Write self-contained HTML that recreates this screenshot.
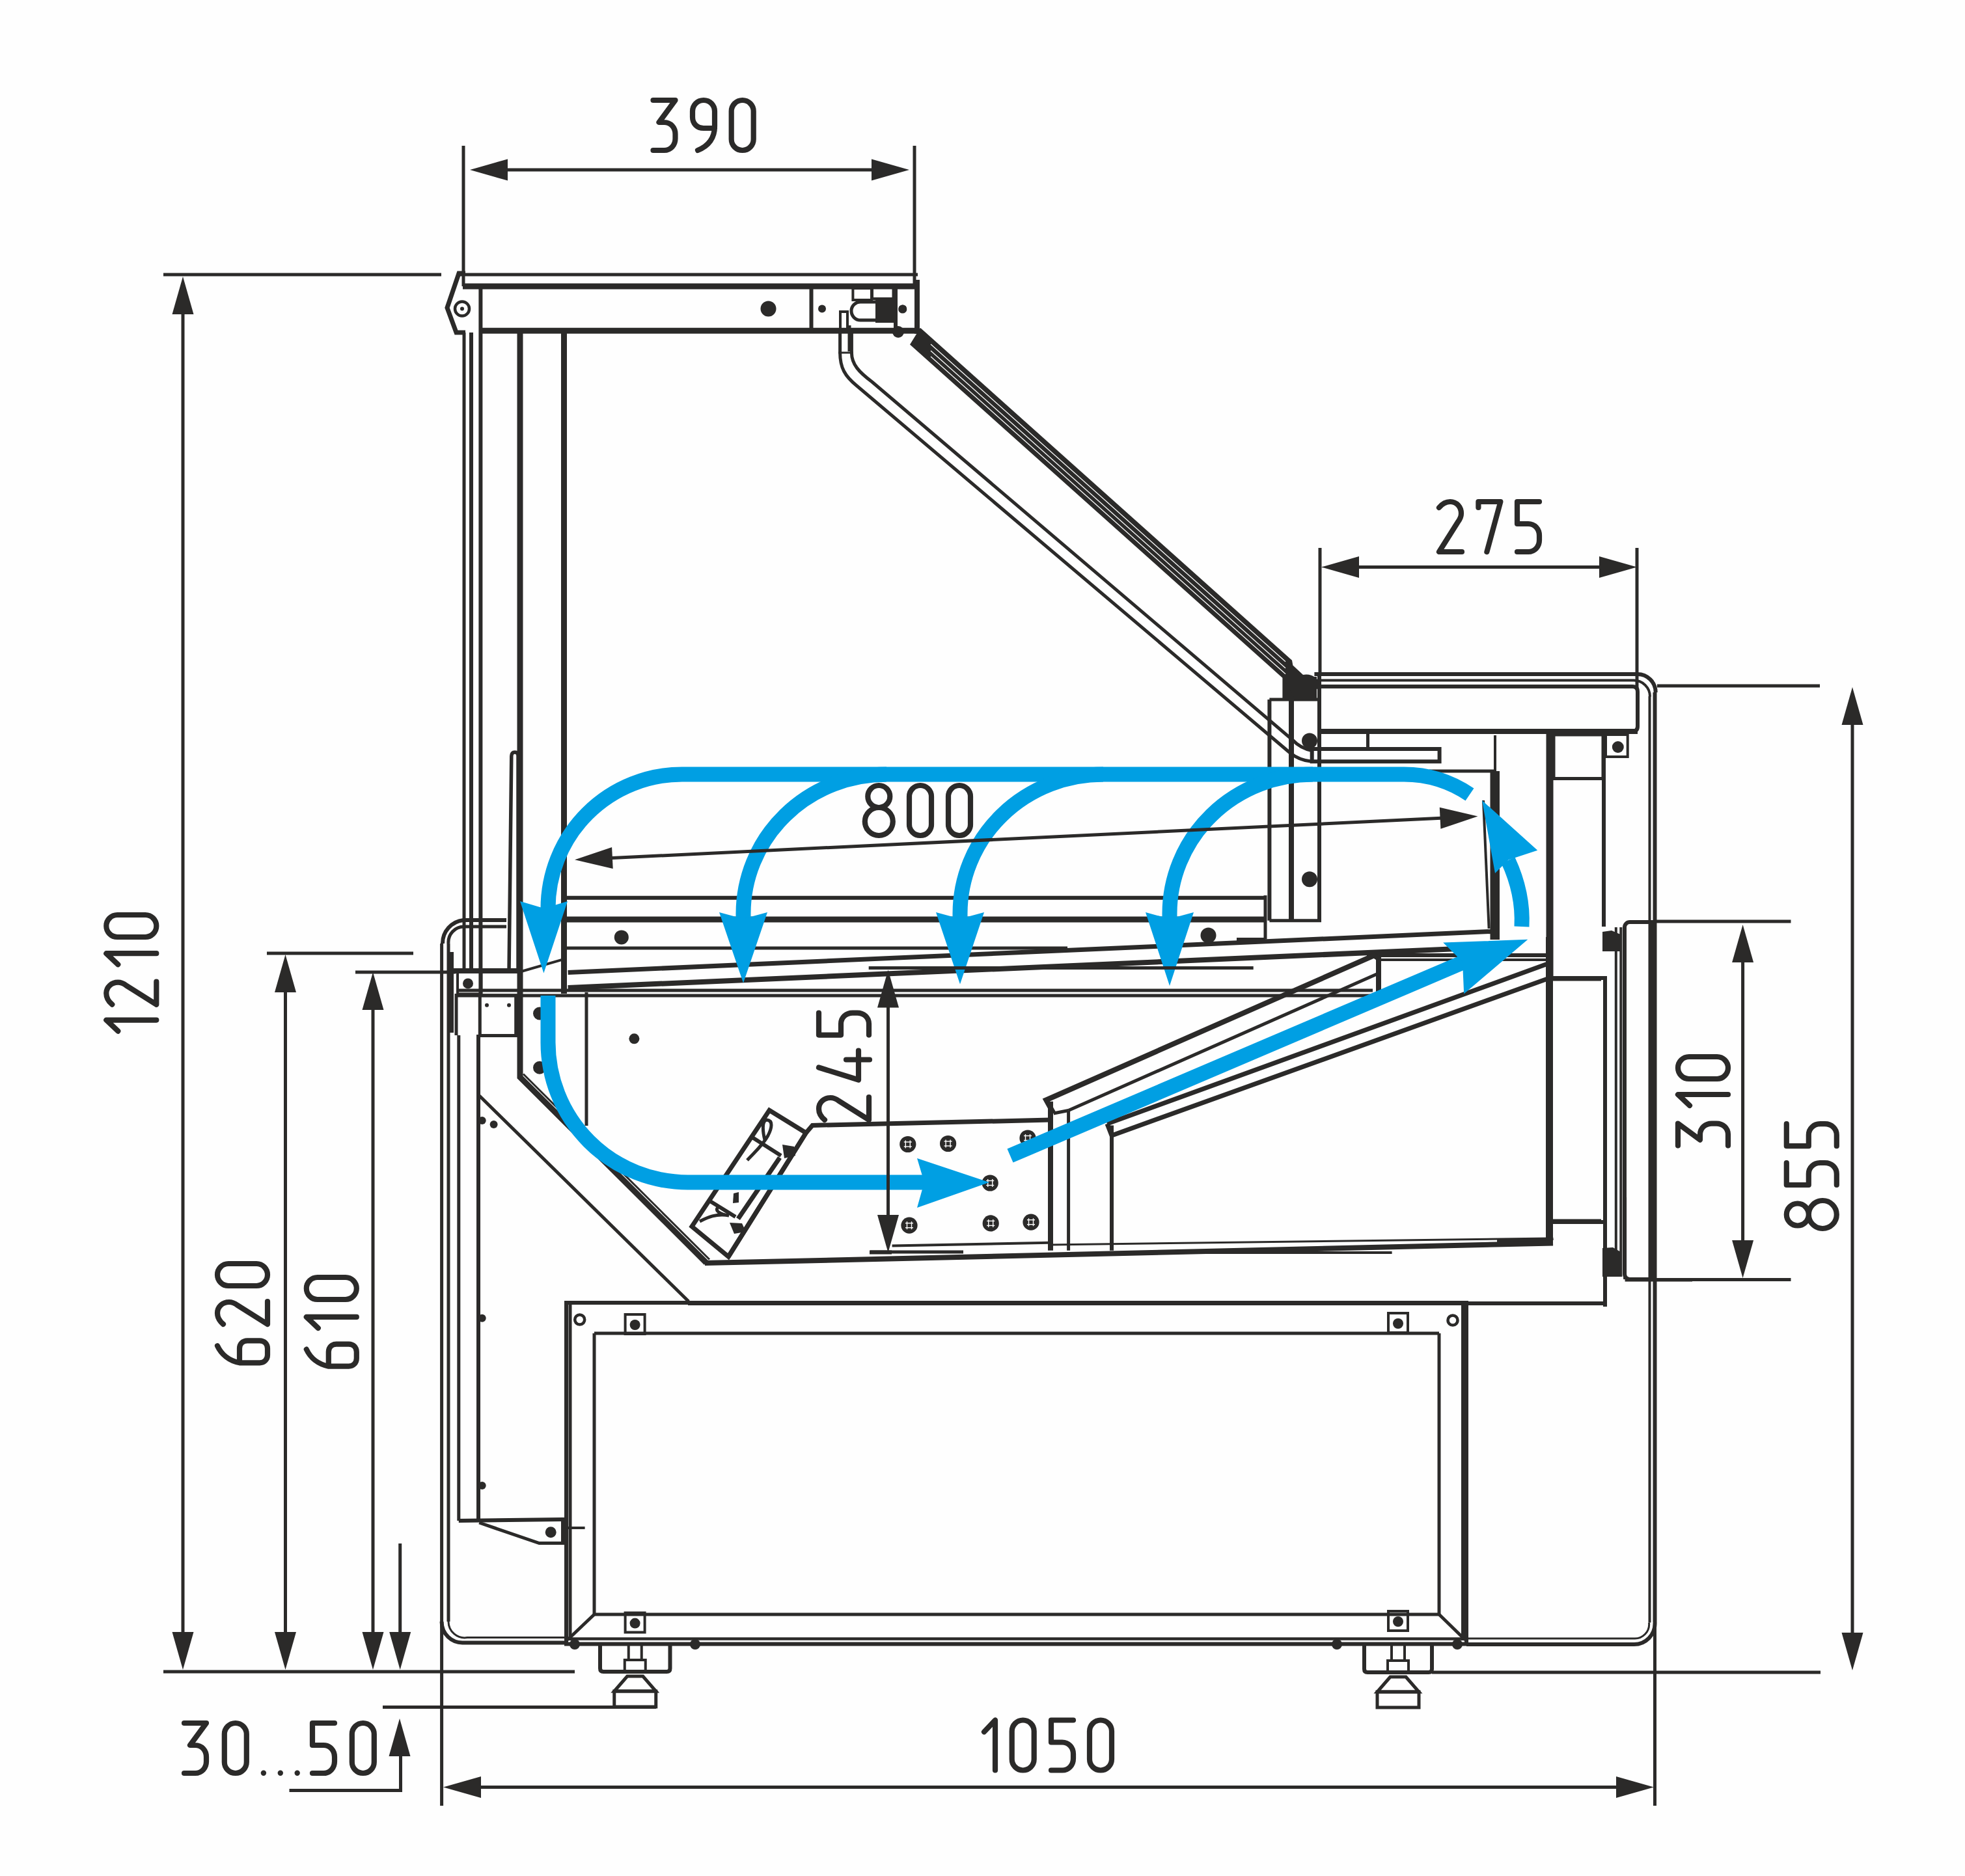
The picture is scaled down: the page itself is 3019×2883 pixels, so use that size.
<!DOCTYPE html>
<html><head><meta charset="utf-8"><style>
html,body{margin:0;padding:0;background:#fefefe;}
svg{display:block;}
</style></head><body>
<svg width="3019" height="2883" viewBox="0 0 3019 2883">
<rect width="3019" height="2883" fill="#fefefe"/>
<line x1="707" y1="422" x2="1410" y2="422" stroke="#2b2a29" stroke-width="5" stroke-linecap="butt"/>
<line x1="711" y1="440" x2="1413" y2="440" stroke="#2b2a29" stroke-width="9" stroke-linecap="butt"/>
<line x1="739.6" y1="508.3" x2="1413" y2="508.3" stroke="#2b2a29" stroke-width="9" stroke-linecap="butt"/>
<line x1="1409" y1="430" x2="1409" y2="513" stroke="#2b2a29" stroke-width="8" stroke-linecap="butt"/>
<line x1="1246.5" y1="440" x2="1246.5" y2="512" stroke="#2b2a29" stroke-width="6" stroke-linecap="butt"/>
<polyline points="715,420 705,420 687,473 701,511 715,511" fill="none" stroke="#2b2a29" stroke-width="7" stroke-linejoin="miter"/>
<circle cx="710" cy="474.5" r="11" fill="none" stroke="#2b2a29" stroke-width="4.5"/>
<circle cx="710" cy="474.5" r="3" fill="#2b2a29"/>
<circle cx="1180.5" cy="474.5" r="12" fill="#2b2a29"/>
<circle cx="1263" cy="474.5" r="6" fill="#2b2a29"/>
<circle cx="1387" cy="474.5" r="6" fill="#2b2a29"/>
<polygon points="1310.4,443 1339,443 1339,461 1310.4,461" fill="none" stroke="#2b2a29" stroke-width="4" stroke-linejoin="miter"/>
<polygon points="1340,441 1372.5,441 1372.5,459 1340,459" fill="none" stroke="#2b2a29" stroke-width="4" stroke-linejoin="miter"/>
<path d="M1322,464 H1350 V492 H1322 A14,14 0 0 1 1322,464 Z" fill="none" stroke="#2b2a29" stroke-width="5" stroke-linecap="butt" stroke-linejoin="miter"/>
<polygon points="1345.0,459.0 1374.0,459.0 1374.0,496.0 1345.0,496.0" fill="#2b2a29"/>
<line x1="1376" y1="440" x2="1376" y2="508" stroke="#2b2a29" stroke-width="6" stroke-linecap="butt"/>
<circle cx="1386.7" cy="475" r="6.6" fill="#2b2a29"/>
<path d="M1291,508 V479 H1302 V505" fill="none" stroke="#2b2a29" stroke-width="4" stroke-linecap="butt" stroke-linejoin="miter"/>
<line x1="1305" y1="500" x2="1305" y2="540" stroke="#2b2a29" stroke-width="5" stroke-linecap="butt"/>
<line x1="713" y1="511" x2="713" y2="1488" stroke="#2b2a29" stroke-width="5" stroke-linecap="butt"/>
<line x1="724" y1="511" x2="724" y2="1488" stroke="#2b2a29" stroke-width="6" stroke-linecap="butt"/>
<line x1="738.4" y1="441" x2="738.4" y2="1527" stroke="#2b2a29" stroke-width="6" stroke-linecap="butt"/>
<polyline points="799,512 799,1655.5 1085,1940.5" fill="none" stroke="#2b2a29" stroke-width="9" stroke-linejoin="miter"/>
<line x1="866.5" y1="512" x2="866.5" y2="1527" stroke="#2b2a29" stroke-width="9" stroke-linecap="butt"/>
<path d="M782,1493 L785.8,1162 Q786,1156 791,1156 Q796,1156 796,1162 L796,1493" fill="none" stroke="#2b2a29" stroke-width="5.5" stroke-linecap="butt" stroke-linejoin="miter"/>
<line x1="799" y1="1493.5" x2="865.2" y2="1474.3" stroke="#2b2a29" stroke-width="4" stroke-linecap="butt"/>
<path d="M1414,503.7 L1985,1014.8 L1986.4,1022.5 L2002,1037 A23,23 0 0 1 2024.7,1045 V1057.7 L2006.6,1074.7 H1970.4 V1041.7 L1398,529.4 Z" fill="#2b2a29" stroke="none" stroke-width="0" stroke-linecap="butt" stroke-linejoin="miter"/>
<circle cx="1380" cy="510" r="9" fill="#2b2a29"/>
<line x1="1430" y1="529.05" x2="1975" y2="1016.825" stroke="#fefefe" stroke-width="1.3" stroke-linecap="butt"/>
<line x1="1430" y1="539.05" x2="1975" y2="1026.825" stroke="#fefefe" stroke-width="1.3" stroke-linecap="butt"/>
<line x1="1430" y1="548.05" x2="1975" y2="1035.825" stroke="#fefefe" stroke-width="1.3" stroke-linecap="butt"/>
<path d="M1290.6,510 V542 C1290.6,565 1298,578 1316.5,593 L1982,1157 Q1996,1168.5 2015.7,1170.3" fill="none" stroke="#2b2a29" stroke-width="5" stroke-linecap="butt" stroke-linejoin="miter"/>
<path d="M1308.4,510 V542 C1308.4,560 1320,572 1340,587 L1985.8,1137 Q1998,1150 2015.7,1153.5" fill="none" stroke="#2b2a29" stroke-width="5" stroke-linecap="butt" stroke-linejoin="miter"/>
<line x1="1288" y1="542" x2="1311" y2="542" stroke="#2b2a29" stroke-width="3" stroke-linecap="butt"/>
<path d="M2019.4,1036 H2515.7 A28,28 0 0 1 2543.7,1064" fill="none" stroke="#2b2a29" stroke-width="6" stroke-linecap="butt" stroke-linejoin="miter"/>
<path d="M2027,1045.5 H2510 A25,25 0 0 1 2535,1070.5" fill="none" stroke="#2b2a29" stroke-width="4" stroke-linecap="butt" stroke-linejoin="miter"/>
<line x1="2027" y1="1036" x2="2027" y2="1124" stroke="#2b2a29" stroke-width="6" stroke-linecap="butt"/>
<path d="M2027,1055 H2508 Q2516,1055 2516,1063 V1116 Q2516,1124 2508,1124" fill="none" stroke="#2b2a29" stroke-width="6" stroke-linecap="butt" stroke-linejoin="miter"/>
<line x1="2027" y1="1124" x2="2516" y2="1124" stroke="#2b2a29" stroke-width="8" stroke-linecap="butt"/>
<line x1="2542.5" y1="1064" x2="2542.5" y2="2493.5" stroke="#2b2a29" stroke-width="6" stroke-linecap="butt"/>
<line x1="2534.5" y1="1070" x2="2534.5" y2="2493.5" stroke="#2b2a29" stroke-width="4" stroke-linecap="butt"/>
<polygon points="1971.0,1040.0 2023.0,1040.0 2023.0,1075.0 1990.0,1075.0" fill="#2b2a29"/>
<line x1="1950.4" y1="1075" x2="1950.4" y2="1414.7" stroke="#2b2a29" stroke-width="6" stroke-linecap="butt"/>
<line x1="1984" y1="1075" x2="1984" y2="1414.7" stroke="#2b2a29" stroke-width="8" stroke-linecap="butt"/>
<line x1="2027" y1="1124" x2="2027" y2="1414.7" stroke="#2b2a29" stroke-width="6" stroke-linecap="butt"/>
<line x1="1950.4" y1="1075" x2="2027" y2="1075" stroke="#2b2a29" stroke-width="5" stroke-linecap="butt"/>
<line x1="1950.4" y1="1414.7" x2="2030" y2="1414.7" stroke="#2b2a29" stroke-width="5" stroke-linecap="butt"/>
<circle cx="2012" cy="1138.6" r="12" fill="#2b2a29"/>
<circle cx="2012" cy="1351.3" r="12" fill="#2b2a29"/>
<polygon points="2015.7,1151 2211.6,1151 2211.6,1170.3 2015.7,1170.3" fill="none" stroke="#2b2a29" stroke-width="6" stroke-linejoin="miter"/>
<line x1="2101.5" y1="1124" x2="2101.5" y2="1151" stroke="#2b2a29" stroke-width="5" stroke-linecap="butt"/>
<line x1="2196" y1="1185" x2="2297" y2="1185" stroke="#2b2a29" stroke-width="5" stroke-linecap="butt"/>
<line x1="2297" y1="1185" x2="2297" y2="1444" stroke="#2b2a29" stroke-width="14" stroke-linecap="butt"/>
<line x1="2297" y1="1130" x2="2297" y2="1185" stroke="#2b2a29" stroke-width="4" stroke-linecap="butt"/>
<line x1="2279" y1="1230" x2="2287.6" y2="1427" stroke="#2b2a29" stroke-width="4" stroke-linecap="butt"/>
<line x1="2381" y1="1127" x2="2381" y2="1502" stroke="#2b2a29" stroke-width="11" stroke-linecap="butt"/>
<polygon points="2387,1129 2463,1129 2463,1196.4 2387,1196.4" fill="none" stroke="#2b2a29" stroke-width="5" stroke-linejoin="miter"/>
<line x1="2464" y1="1127" x2="2464" y2="1424" stroke="#2b2a29" stroke-width="6" stroke-linecap="butt"/>
<polygon points="2467,1129 2500.7,1129 2500.7,1163 2467,1163" fill="none" stroke="#2b2a29" stroke-width="4" stroke-linejoin="miter"/>
<circle cx="2485.8" cy="1148" r="9" fill="#2b2a29"/>
<line x1="2383.5" y1="1502.8" x2="2463" y2="1502.8" stroke="#2b2a29" stroke-width="5" stroke-linecap="butt"/>
<path d="M2542.5,1417 H2504 A8,8 0 0 0 2496,1425 V1958 A8,8 0 0 0 2504,1966 H2542.5" fill="none" stroke="#2b2a29" stroke-width="6" stroke-linecap="butt" stroke-linejoin="miter"/>
<line x1="2482.8" y1="1425" x2="2482.8" y2="1962" stroke="#2b2a29" stroke-width="4" stroke-linecap="butt"/>
<line x1="2490.3" y1="1425" x2="2490.3" y2="1962" stroke="#2b2a29" stroke-width="4" stroke-linecap="butt"/>
<polygon points="2462.0,1432.0 2476.0,1430.0 2492.0,1437.0 2492.0,1462.0 2462.0,1462.0" fill="#2b2a29"/>
<polygon points="2462.0,1918.0 2478.0,1917.0 2492.0,1925.0 2492.0,1962.0 2462.0,1962.0" fill="#2b2a29"/>
<line x1="2539" y1="1417" x2="2539" y2="1966" stroke="#2b2a29" stroke-width="10" stroke-linecap="butt"/>
<polygon points="2378.4,1503 2466,1503 2466,1878 2378.4,1878" fill="none" stroke="#2b2a29" stroke-width="6" stroke-linejoin="miter"/>
<line x1="2384" y1="1503" x2="2384" y2="1878" stroke="#2b2a29" stroke-width="4" stroke-linecap="butt"/>
<line x1="2466" y1="1878" x2="2466" y2="2008" stroke="#2b2a29" stroke-width="6" stroke-linecap="butt"/>
<line x1="1057" y1="2003" x2="2466" y2="2003" stroke="#2b2a29" stroke-width="6" stroke-linecap="butt"/>
<line x1="2378.4" y1="1878" x2="2384" y2="1906" stroke="#2b2a29" stroke-width="6" stroke-linecap="butt"/>
<line x1="2300" y1="1906" x2="2384" y2="1906" stroke="#2b2a29" stroke-width="6" stroke-linecap="butt"/>
<line x1="2496.6" y1="1966" x2="2496.6" y2="1840" stroke="#2b2a29" stroke-width="5" stroke-linecap="butt"/>
<line x1="2496.6" y1="1967" x2="2600" y2="1967" stroke="#2b2a29" stroke-width="5" stroke-linecap="butt"/>
<line x1="866" y1="1379.7" x2="1944" y2="1379.7" stroke="#2b2a29" stroke-width="6" stroke-linecap="butt"/>
<line x1="866" y1="1413" x2="1944" y2="1413" stroke="#2b2a29" stroke-width="9" stroke-linecap="butt"/>
<line x1="1944" y1="1376" x2="1944" y2="1443.6" stroke="#2b2a29" stroke-width="5" stroke-linecap="butt"/>
<line x1="1944" y1="1443.6" x2="1900" y2="1443.6" stroke="#2b2a29" stroke-width="5" stroke-linecap="butt"/>
<line x1="1900" y1="1379" x2="1900" y2="1443" stroke="#2b2a29" stroke-width="0" stroke-linecap="butt"/>
<line x1="866" y1="1457" x2="1640" y2="1457" stroke="#2b2a29" stroke-width="5" stroke-linecap="butt"/>
<line x1="872.6" y1="1494.5" x2="2292" y2="1431.4" stroke="#2b2a29" stroke-width="7" stroke-linecap="butt"/>
<line x1="872.6" y1="1518" x2="2240" y2="1458" stroke="#2b2a29" stroke-width="8" stroke-linecap="butt"/>
<line x1="2100" y1="1468" x2="2378" y2="1468" stroke="#2b2a29" stroke-width="6" stroke-linecap="butt"/>
<line x1="2116" y1="1475" x2="2378" y2="1475" stroke="#2b2a29" stroke-width="4" stroke-linecap="butt"/>
<line x1="703" y1="1522" x2="2109" y2="1522" stroke="#2b2a29" stroke-width="5" stroke-linecap="butt"/>
<line x1="703" y1="1530" x2="2112" y2="1530" stroke="#2b2a29" stroke-width="5" stroke-linecap="butt"/>
<line x1="901" y1="1525" x2="901" y2="1730" stroke="#2b2a29" stroke-width="5" stroke-linecap="butt"/>
<line x1="2117" y1="1470" x2="2117" y2="1529" stroke="#2b2a29" stroke-width="5" stroke-linecap="butt"/>
<circle cx="954.8" cy="1440.4" r="11" fill="#2b2a29"/>
<circle cx="974.4" cy="1596.3" r="8" fill="#2b2a29"/>
<circle cx="1856.5" cy="1437.5" r="12" fill="#2b2a29"/>
<line x1="2292" y1="1185" x2="2292" y2="1444" stroke="#2b2a29" stroke-width="5" stroke-linecap="butt"/>
<polyline points="1618.7,1711 1607.3,1690.5 2111,1468.3 2118,1473 2118,1528" fill="none" stroke="#2b2a29" stroke-width="8" stroke-linejoin="miter"/>
<line x1="1641.6" y1="1706.5" x2="2118" y2="1495.8" stroke="#2b2a29" stroke-width="5" stroke-linecap="butt"/>
<line x1="1618.7" y1="1711" x2="1641.6" y2="1706.5" stroke="#2b2a29" stroke-width="5" stroke-linecap="butt"/>
<polyline points="1701,1727 1708,1745 2381.4,1502.7" fill="none" stroke="#2b2a29" stroke-width="7" stroke-linejoin="miter"/>
<line x1="1701" y1="1727" x2="2381.4" y2="1479.8" stroke="#2b2a29" stroke-width="7" stroke-linecap="butt"/>
<line x1="2380.5" y1="1440" x2="2380.5" y2="1910.4" stroke="#2b2a29" stroke-width="11" stroke-linecap="butt"/>
<line x1="2381.4" y1="1505" x2="2460" y2="1505" stroke="#2b2a29" stroke-width="5" stroke-linecap="butt"/>
<line x1="2381.4" y1="1876" x2="2460" y2="1876" stroke="#2b2a29" stroke-width="5" stroke-linecap="butt"/>
<line x1="1614" y1="1692.8" x2="1614" y2="1921.8" stroke="#2b2a29" stroke-width="8" stroke-linecap="butt"/>
<line x1="1641.6" y1="1706.5" x2="1641.6" y2="1921.8" stroke="#2b2a29" stroke-width="5" stroke-linecap="butt"/>
<line x1="1708" y1="1729.4" x2="1708" y2="1921.8" stroke="#2b2a29" stroke-width="6" stroke-linecap="butt"/>
<line x1="1082.9" y1="1941.1" x2="2386" y2="1910.4" stroke="#2b2a29" stroke-width="8" stroke-linecap="butt"/>
<line x1="1737.8" y1="1925" x2="2138.6" y2="1925" stroke="#2b2a29" stroke-width="4" stroke-linecap="butt"/>
<line x1="1336" y1="1924.6" x2="1370" y2="1924.6" stroke="#2b2a29" stroke-width="6" stroke-linecap="butt"/>
<line x1="1370.6" y1="1914.6" x2="1612" y2="1909.7" stroke="#2b2a29" stroke-width="4" stroke-linecap="butt"/>
<line x1="1612" y1="1913" x2="2381" y2="1903" stroke="#2b2a29" stroke-width="3" stroke-linecap="butt"/>
<polyline points="1119.2,1931.2 1238.3,1741 1248.2,1729.4 1614,1721.1" fill="none" stroke="#2b2a29" stroke-width="7" stroke-linejoin="miter"/>
<circle cx="1394.8" cy="1758.5" r="12.6" fill="#2b2a29"/>
<line x1="1388.8" y1="1755.0" x2="1400.8" y2="1755.0" stroke="#fff" stroke-width="1.4" stroke-linecap="butt"/>
<line x1="1388.8" y1="1762.0" x2="1400.8" y2="1762.0" stroke="#fff" stroke-width="1.4" stroke-linecap="butt"/>
<line x1="1391.3" y1="1752.5" x2="1391.3" y2="1764.5" stroke="#fff" stroke-width="1.4" stroke-linecap="butt"/>
<line x1="1398.3" y1="1752.5" x2="1398.3" y2="1764.5" stroke="#fff" stroke-width="1.4" stroke-linecap="butt"/>
<circle cx="1456.6" cy="1757.5" r="12.6" fill="#2b2a29"/>
<line x1="1450.6" y1="1754.0" x2="1462.6" y2="1754.0" stroke="#fff" stroke-width="1.4" stroke-linecap="butt"/>
<line x1="1450.6" y1="1761.0" x2="1462.6" y2="1761.0" stroke="#fff" stroke-width="1.4" stroke-linecap="butt"/>
<line x1="1453.1" y1="1751.5" x2="1453.1" y2="1763.5" stroke="#fff" stroke-width="1.4" stroke-linecap="butt"/>
<line x1="1460.1" y1="1751.5" x2="1460.1" y2="1763.5" stroke="#fff" stroke-width="1.4" stroke-linecap="butt"/>
<circle cx="1579" cy="1749" r="12.6" fill="#2b2a29"/>
<line x1="1573" y1="1745.5" x2="1585" y2="1745.5" stroke="#fff" stroke-width="1.4" stroke-linecap="butt"/>
<line x1="1573" y1="1752.5" x2="1585" y2="1752.5" stroke="#fff" stroke-width="1.4" stroke-linecap="butt"/>
<line x1="1575.5" y1="1743" x2="1575.5" y2="1755" stroke="#fff" stroke-width="1.4" stroke-linecap="butt"/>
<line x1="1582.5" y1="1743" x2="1582.5" y2="1755" stroke="#fff" stroke-width="1.4" stroke-linecap="butt"/>
<circle cx="1521.2" cy="1818" r="12.6" fill="#2b2a29"/>
<line x1="1515.2" y1="1814.5" x2="1527.2" y2="1814.5" stroke="#fff" stroke-width="1.4" stroke-linecap="butt"/>
<line x1="1515.2" y1="1821.5" x2="1527.2" y2="1821.5" stroke="#fff" stroke-width="1.4" stroke-linecap="butt"/>
<line x1="1517.7" y1="1812" x2="1517.7" y2="1824" stroke="#fff" stroke-width="1.4" stroke-linecap="butt"/>
<line x1="1524.7" y1="1812" x2="1524.7" y2="1824" stroke="#fff" stroke-width="1.4" stroke-linecap="butt"/>
<circle cx="1397" cy="1883.2" r="12.6" fill="#2b2a29"/>
<line x1="1391" y1="1879.7" x2="1403" y2="1879.7" stroke="#fff" stroke-width="1.4" stroke-linecap="butt"/>
<line x1="1391" y1="1886.7" x2="1403" y2="1886.7" stroke="#fff" stroke-width="1.4" stroke-linecap="butt"/>
<line x1="1393.5" y1="1877.2" x2="1393.5" y2="1889.2" stroke="#fff" stroke-width="1.4" stroke-linecap="butt"/>
<line x1="1400.5" y1="1877.2" x2="1400.5" y2="1889.2" stroke="#fff" stroke-width="1.4" stroke-linecap="butt"/>
<circle cx="1522.2" cy="1879.9" r="12.6" fill="#2b2a29"/>
<line x1="1516.2" y1="1876.4" x2="1528.2" y2="1876.4" stroke="#fff" stroke-width="1.4" stroke-linecap="butt"/>
<line x1="1516.2" y1="1883.4" x2="1528.2" y2="1883.4" stroke="#fff" stroke-width="1.4" stroke-linecap="butt"/>
<line x1="1518.7" y1="1873.9" x2="1518.7" y2="1885.9" stroke="#fff" stroke-width="1.4" stroke-linecap="butt"/>
<line x1="1525.7" y1="1873.9" x2="1525.7" y2="1885.9" stroke="#fff" stroke-width="1.4" stroke-linecap="butt"/>
<circle cx="1584" cy="1878.2" r="12.6" fill="#2b2a29"/>
<line x1="1578" y1="1874.7" x2="1590" y2="1874.7" stroke="#fff" stroke-width="1.4" stroke-linecap="butt"/>
<line x1="1578" y1="1881.7" x2="1590" y2="1881.7" stroke="#fff" stroke-width="1.4" stroke-linecap="butt"/>
<line x1="1580.5" y1="1872.2" x2="1580.5" y2="1884.2" stroke="#fff" stroke-width="1.4" stroke-linecap="butt"/>
<line x1="1587.5" y1="1872.2" x2="1587.5" y2="1884.2" stroke="#fff" stroke-width="1.4" stroke-linecap="butt"/>
<polygon points="1182,1706.2 1238.3,1741 1119.2,1931.2 1063,1884.9" fill="none" stroke="#2b2a29" stroke-width="7" stroke-linejoin="miter"/>
<line x1="1156.4" y1="1748.2" x2="1200" y2="1776" stroke="#2b2a29" stroke-width="6" stroke-linecap="butt"/>
<line x1="1089.9" y1="1845.3" x2="1130" y2="1870" stroke="#2b2a29" stroke-width="6" stroke-linecap="butt"/>
<line x1="1198" y1="1779" x2="1134" y2="1873" stroke="#2b2a29" stroke-width="7" stroke-linecap="butt"/>
<polygon points="1202.0,1759.0 1220.0,1762.0 1222.0,1776.0 1205.0,1780.0" fill="#2b2a29"/>
<polygon points="1121.0,1879.0 1140.0,1880.0 1146.0,1893.0 1128.0,1896.0" fill="#2b2a29"/>
<polygon points="1127.0,1834.0 1135.0,1832.0 1135.0,1848.0 1126.0,1849.0" fill="#2b2a29"/>
<path d="M1148,1783 C1160,1770 1172,1760 1180,1745 C1186,1733 1188,1722 1178,1721 C1170,1722 1172,1740 1175,1752" fill="none" stroke="#2b2a29" stroke-width="5" stroke-linecap="butt" stroke-linejoin="miter"/>
<path d="M1075,1877 C1085,1872 1100,1864 1120,1868 C1105,1866 1098,1860 1103,1856" fill="none" stroke="#2b2a29" stroke-width="5" stroke-linecap="butt" stroke-linejoin="miter"/>
<line x1="735" y1="1590" x2="735" y2="2337" stroke="#2b2a29" stroke-width="6" stroke-linecap="butt"/>
<line x1="704.8" y1="1591" x2="704.8" y2="2337" stroke="#2b2a29" stroke-width="5" stroke-linecap="butt"/>
<line x1="704.8" y1="2337" x2="864.5" y2="2335" stroke="#2b2a29" stroke-width="6" stroke-linecap="butt"/>
<line x1="736.6" y1="1684" x2="1058" y2="2000" stroke="#2b2a29" stroke-width="5" stroke-linecap="butt"/>
<line x1="804" y1="1650.5" x2="1090" y2="1935.5" stroke="#2b2a29" stroke-width="3" stroke-linecap="butt"/>
<polyline points="736.2,2340 828.4,2371.5 864.5,2371.5 864.5,2332" fill="none" stroke="#2b2a29" stroke-width="5" stroke-linejoin="miter"/>
<circle cx="846.2" cy="2354.7" r="8.5" fill="#2b2a29"/>
<line x1="872" y1="2348" x2="898.6" y2="2348" stroke="#2b2a29" stroke-width="4" stroke-linecap="butt"/>
<circle cx="740.7" cy="1722" r="6" fill="#2b2a29"/>
<circle cx="740.7" cy="2025.7" r="6" fill="#2b2a29"/>
<circle cx="740.7" cy="2283" r="6" fill="#2b2a29"/>
<circle cx="758.6" cy="1728" r="6" fill="#2b2a29"/>
<path d="M680,1450 A36,36 0 0 1 712,1414 H778" fill="none" stroke="#2b2a29" stroke-width="6" stroke-linecap="butt" stroke-linejoin="miter"/>
<path d="M689,1450 A24,24 0 0 1 713,1424 H778" fill="none" stroke="#2b2a29" stroke-width="5" stroke-linecap="butt" stroke-linejoin="miter"/>
<line x1="689" y1="1450" x2="689" y2="2492" stroke="#2b2a29" stroke-width="5" stroke-linecap="butt"/>
<path d="M678.6,2492 A32,32 0 0 0 712.6,2524.4 H870" fill="none" stroke="#2b2a29" stroke-width="6" stroke-linecap="butt" stroke-linejoin="miter"/>
<path d="M689,2492 A25,25 0 0 0 717.9,2516.6 H870" fill="none" stroke="#2b2a29" stroke-width="3" stroke-linecap="butt" stroke-linejoin="miter"/>
<path d="M2542.5,2493.5 A32,32 0 0 1 2510,2527 H2253" fill="none" stroke="#2b2a29" stroke-width="6" stroke-linecap="butt" stroke-linejoin="miter"/>
<path d="M2533.5,2493.5 A22,22 0 0 1 2510,2518 H2253" fill="none" stroke="#2b2a29" stroke-width="3" stroke-linecap="butt" stroke-linejoin="miter"/>
<polygon points="703,1493.5 739.4,1493.5 739.4,1527.6 703,1527.6" fill="none" stroke="#2b2a29" stroke-width="4" stroke-linejoin="miter"/>
<circle cx="719" cy="1511.4" r="8" fill="#2b2a29"/>
<polygon points="737.3,1529.7 792.7,1529.7 792.7,1591.6 737.3,1591.6" fill="none" stroke="#2b2a29" stroke-width="5" stroke-linejoin="miter"/>
<line x1="693" y1="1463" x2="693" y2="1587" stroke="#2b2a29" stroke-width="8" stroke-linecap="butt"/>
<line x1="693" y1="1492" x2="802" y2="1492" stroke="#2b2a29" stroke-width="8" stroke-linecap="butt"/>
<line x1="701" y1="1527" x2="701" y2="1591" stroke="#2b2a29" stroke-width="5" stroke-linecap="butt"/>
<circle cx="748" cy="1544.7" r="3" fill="#2b2a29"/>
<circle cx="782" cy="1544.7" r="3" fill="#2b2a29"/>
<circle cx="829" cy="1557.5" r="10" fill="#2b2a29"/>
<circle cx="829" cy="1640.7" r="10" fill="#2b2a29"/>
<polygon points="870,2002 2253,2002 2253,2526.5 870,2526.5" fill="none" stroke="#2b2a29" stroke-width="6" stroke-linejoin="miter"/>
<line x1="876" y1="2002" x2="876" y2="2521" stroke="#2b2a29" stroke-width="5" stroke-linecap="butt"/>
<line x1="2247.5" y1="2002" x2="2247.5" y2="2521" stroke="#2b2a29" stroke-width="5" stroke-linecap="butt"/>
<line x1="913" y1="2049" x2="2211" y2="2049" stroke="#2b2a29" stroke-width="5" stroke-linecap="butt"/>
<line x1="913" y1="2481" x2="2211" y2="2481" stroke="#2b2a29" stroke-width="5" stroke-linecap="butt"/>
<line x1="913" y1="2049" x2="913" y2="2481" stroke="#2b2a29" stroke-width="5" stroke-linecap="butt"/>
<line x1="2211" y1="2049" x2="2211" y2="2481" stroke="#2b2a29" stroke-width="5" stroke-linecap="butt"/>
<line x1="913" y1="2481" x2="872" y2="2520" stroke="#2b2a29" stroke-width="5" stroke-linecap="butt"/>
<line x1="2211" y1="2481" x2="2251" y2="2520" stroke="#2b2a29" stroke-width="5" stroke-linecap="butt"/>
<line x1="870" y1="2518.5" x2="2253" y2="2518.5" stroke="#2b2a29" stroke-width="4.5" stroke-linecap="butt"/>
<polygon points="960.6,2020 990.6,2020 990.6,2050 960.6,2050" fill="none" stroke="#2b2a29" stroke-width="4" stroke-linejoin="miter"/>
<circle cx="975.6" cy="2036" r="8" fill="#2b2a29"/>
<polygon points="960.6,2478.6 990.6,2478.6 990.6,2508.6 960.6,2508.6" fill="none" stroke="#2b2a29" stroke-width="4" stroke-linejoin="miter"/>
<circle cx="975.6" cy="2494.6" r="8" fill="#2b2a29"/>
<polygon points="2133,2018 2163,2018 2163,2048 2133,2048" fill="none" stroke="#2b2a29" stroke-width="4" stroke-linejoin="miter"/>
<circle cx="2148" cy="2034" r="8" fill="#2b2a29"/>
<polygon points="2133,2476 2163,2476 2163,2506 2133,2506" fill="none" stroke="#2b2a29" stroke-width="4" stroke-linejoin="miter"/>
<circle cx="2148" cy="2492" r="8" fill="#2b2a29"/>
<circle cx="890.7" cy="2028" r="7.5" fill="none" stroke="#2b2a29" stroke-width="4.5"/>
<circle cx="2232" cy="2029" r="7.5" fill="none" stroke="#2b2a29" stroke-width="4.5"/>
<path d="M922,2526 V2564 Q922,2569 927,2569 H1024.5 Q1029.5,2569 1029.5,2564 V2526" fill="none" stroke="#2b2a29" stroke-width="6" stroke-linecap="butt" stroke-linejoin="miter"/>
<polygon points="965.75,2526 985.75,2526 985.75,2551 965.75,2551" fill="none" stroke="#2b2a29" stroke-width="4" stroke-linejoin="miter"/>
<polygon points="959.75,2551 991.75,2551 991.75,2568 959.75,2568" fill="none" stroke="#2b2a29" stroke-width="4" stroke-linejoin="miter"/>
<path d="M963.75,2576 L943.75,2599 H1007.75 L987.75,2576 Z" fill="none" stroke="#2b2a29" stroke-width="5" stroke-linecap="butt" stroke-linejoin="miter"/>
<polygon points="943.75,2599 1007.75,2599 1007.75,2623 943.75,2623" fill="none" stroke="#2b2a29" stroke-width="5" stroke-linejoin="miter"/>
<path d="M2096,2527 V2565 Q2096,2570 2101,2570 H2195 Q2200,2570 2200,2565 V2527" fill="none" stroke="#2b2a29" stroke-width="6" stroke-linecap="butt" stroke-linejoin="miter"/>
<polygon points="2138.0,2527 2158.0,2527 2158.0,2552 2138.0,2552" fill="none" stroke="#2b2a29" stroke-width="4" stroke-linejoin="miter"/>
<polygon points="2132.0,2552 2164.0,2552 2164.0,2569 2132.0,2569" fill="none" stroke="#2b2a29" stroke-width="4" stroke-linejoin="miter"/>
<path d="M2136.0,2577 L2116.0,2600 H2180.0 L2160.0,2577 Z" fill="none" stroke="#2b2a29" stroke-width="5" stroke-linecap="butt" stroke-linejoin="miter"/>
<polygon points="2116.0,2600 2180.0,2600 2180.0,2624 2116.0,2624" fill="none" stroke="#2b2a29" stroke-width="5" stroke-linejoin="miter"/>
<circle cx="883" cy="2527" r="8" fill="#2b2a29"/>
<circle cx="1068" cy="2527" r="8" fill="#2b2a29"/>
<circle cx="2054" cy="2527" r="8" fill="#2b2a29"/>
<circle cx="2239" cy="2527" r="8" fill="#2b2a29"/>
<path d="M842,1400 V1396 A206,206 0 0 1 1048,1190 H2157 A180,180 0 0 1 2258,1221" fill="none" stroke="#009fe3" stroke-width="23" stroke-linecap="butt" stroke-linejoin="miter"/>
<polygon points="835.4,1495.6 799.0,1385.0 836.0,1396.0 872.0,1385.0" fill="#009fe3"/>
<path d="M1362,1190 A220,214 0 0 0 1142,1404 V1412" fill="none" stroke="#009fe3" stroke-width="23" stroke-linecap="butt" stroke-linejoin="miter"/>
<polygon points="1142.0,1510.8 1105.0,1402.0 1142.0,1412.0 1179.0,1402.0" fill="#009fe3"/>
<path d="M1695,1190 A220,214 0 0 0 1475,1404 V1412" fill="none" stroke="#009fe3" stroke-width="23" stroke-linecap="butt" stroke-linejoin="miter"/>
<polygon points="1475.0,1512.5 1438.0,1402.0 1475.0,1412.0 1512.0,1402.0" fill="#009fe3"/>
<path d="M2017,1190 A220,214 0 0 0 1797,1404 V1412" fill="none" stroke="#009fe3" stroke-width="23" stroke-linecap="butt" stroke-linejoin="miter"/>
<polygon points="1797.0,1515.0 1760.0,1402.0 1797.0,1412.0 1834.0,1402.0" fill="#009fe3"/>
<path d="M842,1530 V1602 A215,215 0 0 0 1057,1817 H1425" fill="none" stroke="#009fe3" stroke-width="23" stroke-linecap="butt" stroke-linejoin="miter"/>
<polygon points="1520.0,1817.0 1409.0,1780.0 1420.0,1817.0 1409.0,1856.0" fill="#009fe3"/>
<path d="M2338,1424 C2340,1385 2330,1350 2317,1322" fill="none" stroke="#009fe3" stroke-width="23" stroke-linecap="butt" stroke-linejoin="miter"/>
<polygon points="2277.0,1230.0 2362.2,1306.7 2317.4,1321.6 2297.0,1342.0" fill="#009fe3"/>
<path d="M1552,1776 L2250,1478" fill="none" stroke="#009fe3" stroke-width="23" stroke-linecap="butt" stroke-linejoin="miter"/>
<polygon points="2347.3,1443.8 2217.2,1448.4 2247.0,1478.0 2249.2,1527.3" fill="#009fe3"/>
<line x1="712" y1="224" x2="712" y2="440" stroke="#2b2a29" stroke-width="5" stroke-linecap="butt"/>
<line x1="1405" y1="224" x2="1405" y2="440" stroke="#2b2a29" stroke-width="5" stroke-linecap="butt"/>
<line x1="762" y1="261" x2="1357" y2="261" stroke="#2b2a29" stroke-width="5" stroke-linecap="butt"/>
<polygon points="722.0,261.0 780.0,244.5 780.0,277.5" fill="#2b2a29"/>
<polygon points="1397.0,261.0 1339.0,277.5 1339.0,244.5" fill="#2b2a29"/>
<path transform="translate(1003.5,154)" d="M0,0 H34 L9,34 H17 C27,34 34,42 34,52 V59 C34,69 27,77 17,77 H0" fill="none" stroke="#2b2a29" stroke-width="8.2" stroke-linecap="round" stroke-linejoin="round"/>
<path transform="translate(1064,154)" d="M34,43 H17 C7,43 0,36 0,26 V17 C0,8 7,0 17,0 C27,0 34,8 34,17 V40 C34,58 25,70 8,77" fill="none" stroke="#2b2a29" stroke-width="8.2" stroke-linecap="round" stroke-linejoin="round"/>
<path transform="translate(1123.7,154)" d="M0,17 A17,17 0 0 1 34,17 V60 A17,17 0 0 1 0,60 Z" fill="none" stroke="#2b2a29" stroke-width="8.2" stroke-linecap="round" stroke-linejoin="round"/>
<line x1="2028" y1="842" x2="2028" y2="1036" stroke="#2b2a29" stroke-width="5" stroke-linecap="butt"/>
<line x1="2515" y1="842" x2="2515" y2="1060" stroke="#2b2a29" stroke-width="5" stroke-linecap="butt"/>
<line x1="2070" y1="871.5" x2="2475" y2="871.5" stroke="#2b2a29" stroke-width="5" stroke-linecap="butt"/>
<polygon points="2030.0,871.5 2088.0,855.0 2088.0,888.0" fill="#2b2a29"/>
<polygon points="2515.0,871.5 2457.0,888.0 2457.0,855.0" fill="#2b2a29"/>
<path transform="translate(2211,771)" d="M0,9 C5,3 11,0 17,0 C27,0 34,8 34,18 C34,23 32,27 29,31 L0,77 H35" fill="none" stroke="#2b2a29" stroke-width="8.2" stroke-linecap="round" stroke-linejoin="round"/>
<path transform="translate(2271.4,771)" d="M0,9 V0 H34 L13,77" fill="none" stroke="#2b2a29" stroke-width="8.2" stroke-linecap="round" stroke-linejoin="round"/>
<path transform="translate(2331,771)" d="M34,0 H0 V34 H17 C27,34 34,42 34,52 V59 C34,69 27,77 17,77 H0" fill="none" stroke="#2b2a29" stroke-width="8.2" stroke-linecap="round" stroke-linejoin="round"/>
<line x1="251" y1="422" x2="678" y2="422" stroke="#2b2a29" stroke-width="5" stroke-linecap="butt"/>
<line x1="281" y1="465" x2="281" y2="2526" stroke="#2b2a29" stroke-width="5" stroke-linecap="butt"/>
<polygon points="281.0,425.0 297.5,483.0 264.5,483.0" fill="#2b2a29"/>
<polygon points="281.0,2566.0 264.5,2508.0 297.5,2508.0" fill="#2b2a29"/>
<path transform="translate(163.3,1584.6) rotate(-90)" d="M0,18 L17,0 V77" fill="none" stroke="#2b2a29" stroke-width="8.2" stroke-linecap="round" stroke-linejoin="round"/>
<path transform="translate(163.3,1543.7) rotate(-90)" d="M0,9 C5,3 11,0 17,0 C27,0 34,8 34,18 C34,23 32,27 29,31 L0,77 H35" fill="none" stroke="#2b2a29" stroke-width="8.2" stroke-linecap="round" stroke-linejoin="round"/>
<path transform="translate(163.3,1482.2) rotate(-90)" d="M0,18 L17,0 V77" fill="none" stroke="#2b2a29" stroke-width="8.2" stroke-linecap="round" stroke-linejoin="round"/>
<path transform="translate(163.3,1440) rotate(-90)" d="M0,17 A17,17 0 0 1 34,17 V60 A17,17 0 0 1 0,60 Z" fill="none" stroke="#2b2a29" stroke-width="8.2" stroke-linecap="round" stroke-linejoin="round"/>
<line x1="410" y1="1465" x2="635" y2="1465" stroke="#2b2a29" stroke-width="5" stroke-linecap="butt"/>
<line x1="438.5" y1="1507" x2="438.5" y2="2526" stroke="#2b2a29" stroke-width="5" stroke-linecap="butt"/>
<polygon points="438.5,1467.0 455.0,1525.0 422.0,1525.0" fill="#2b2a29"/>
<polygon points="438.5,2566.0 422.0,2508.0 455.0,2508.0" fill="#2b2a29"/>
<path transform="translate(334,2094.3) rotate(-90)" d="M26,0 C13,6 3,18 0,34 V65 C0,72 5,77 12,77 H22 C29,77 34,72 34,65 V46 C34,39 29,34 22,34 H0" fill="none" stroke="#2b2a29" stroke-width="8.2" stroke-linecap="round" stroke-linejoin="round"/>
<path transform="translate(334,2035) rotate(-90)" d="M0,9 C5,3 11,0 17,0 C27,0 34,8 34,18 C34,23 32,27 29,31 L0,77 H35" fill="none" stroke="#2b2a29" stroke-width="8.2" stroke-linecap="round" stroke-linejoin="round"/>
<path transform="translate(334,1976) rotate(-90)" d="M0,17 A17,17 0 0 1 34,17 V60 A17,17 0 0 1 0,60 Z" fill="none" stroke="#2b2a29" stroke-width="8.2" stroke-linecap="round" stroke-linejoin="round"/>
<line x1="546" y1="1494" x2="700" y2="1494" stroke="#2b2a29" stroke-width="5" stroke-linecap="butt"/>
<line x1="573" y1="1534" x2="573" y2="2526" stroke="#2b2a29" stroke-width="5" stroke-linecap="butt"/>
<polygon points="573.0,1494.0 589.5,1552.0 556.5,1552.0" fill="#2b2a29"/>
<polygon points="573.0,2566.0 556.5,2508.0 589.5,2508.0" fill="#2b2a29"/>
<path transform="translate(470.8,2099.6) rotate(-90)" d="M26,0 C13,6 3,18 0,34 V65 C0,72 5,77 12,77 H22 C29,77 34,72 34,65 V46 C34,39 29,34 22,34 H0" fill="none" stroke="#2b2a29" stroke-width="8.2" stroke-linecap="round" stroke-linejoin="round"/>
<path transform="translate(470.8,2040.9) rotate(-90)" d="M0,18 L17,0 V77" fill="none" stroke="#2b2a29" stroke-width="8.2" stroke-linecap="round" stroke-linejoin="round"/>
<path transform="translate(470.8,1997) rotate(-90)" d="M0,17 A17,17 0 0 1 34,17 V60 A17,17 0 0 1 0,60 Z" fill="none" stroke="#2b2a29" stroke-width="8.2" stroke-linecap="round" stroke-linejoin="round"/>
<line x1="251" y1="2569" x2="883" y2="2569" stroke="#2b2a29" stroke-width="5" stroke-linecap="butt"/>
<line x1="614.7" y1="2372" x2="614.7" y2="2540" stroke="#2b2a29" stroke-width="5" stroke-linecap="butt"/>
<polygon points="614.7,2566.0 598.2,2508.0 631.2,2508.0" fill="#2b2a29"/>
<line x1="588" y1="2623.5" x2="1008" y2="2623.5" stroke="#2b2a29" stroke-width="5" stroke-linecap="butt"/>
<polygon points="614.0,2641.0 630.5,2699.0 597.5,2699.0" fill="#2b2a29"/>
<polyline points="444.5,2751.5 615.5,2751.5 615.5,2690" fill="none" stroke="#2b2a29" stroke-width="5" stroke-linejoin="miter"/>
<path transform="translate(283,2648)" d="M0,0 H34 L9,34 H17 C27,34 34,42 34,52 V59 C34,69 27,77 17,77 H0" fill="none" stroke="#2b2a29" stroke-width="8.2" stroke-linecap="round" stroke-linejoin="round"/>
<path transform="translate(344.8,2648)" d="M0,17 A17,17 0 0 1 34,17 V60 A17,17 0 0 1 0,60 Z" fill="none" stroke="#2b2a29" stroke-width="8.2" stroke-linecap="round" stroke-linejoin="round"/>
<circle cx="404.9" cy="2724.8" r="4.2" fill="#2b2a29"/>
<circle cx="430.8" cy="2724.8" r="4.2" fill="#2b2a29"/>
<circle cx="456.7" cy="2724.8" r="4.2" fill="#2b2a29"/>
<path transform="translate(480,2648)" d="M34,0 H0 V34 H17 C27,34 34,42 34,52 V59 C34,69 27,77 17,77 H0" fill="none" stroke="#2b2a29" stroke-width="8.2" stroke-linecap="round" stroke-linejoin="round"/>
<path transform="translate(540.8,2648)" d="M0,17 A17,17 0 0 1 34,17 V60 A17,17 0 0 1 0,60 Z" fill="none" stroke="#2b2a29" stroke-width="8.2" stroke-linecap="round" stroke-linejoin="round"/>
<line x1="678.6" y1="1450" x2="678.6" y2="2775" stroke="#2b2a29" stroke-width="5" stroke-linecap="butt"/>
<line x1="2542.5" y1="2490" x2="2542.5" y2="2775" stroke="#2b2a29" stroke-width="5" stroke-linecap="butt"/>
<line x1="721" y1="2746.6" x2="2501" y2="2746.6" stroke="#2b2a29" stroke-width="5" stroke-linecap="butt"/>
<polygon points="681.0,2746.6 739.0,2730.1 739.0,2763.1" fill="#2b2a29"/>
<polygon points="2541.0,2746.6 2483.0,2763.1 2483.0,2730.1" fill="#2b2a29"/>
<path transform="translate(1512,2643.5)" d="M0,18 L17,0 V77" fill="none" stroke="#2b2a29" stroke-width="8.2" stroke-linecap="round" stroke-linejoin="round"/>
<path transform="translate(1554.7,2643.5)" d="M0,17 A17,17 0 0 1 34,17 V60 A17,17 0 0 1 0,60 Z" fill="none" stroke="#2b2a29" stroke-width="8.2" stroke-linecap="round" stroke-linejoin="round"/>
<path transform="translate(1615,2643.5)" d="M34,0 H0 V34 H17 C27,34 34,42 34,52 V59 C34,69 27,77 17,77 H0" fill="none" stroke="#2b2a29" stroke-width="8.2" stroke-linecap="round" stroke-linejoin="round"/>
<path transform="translate(1674,2643.5)" d="M0,17 A17,17 0 0 1 34,17 V60 A17,17 0 0 1 0,60 Z" fill="none" stroke="#2b2a29" stroke-width="8.2" stroke-linecap="round" stroke-linejoin="round"/>
<line x1="2546" y1="1054" x2="2796" y2="1054" stroke="#2b2a29" stroke-width="5" stroke-linecap="butt"/>
<line x1="2200" y1="2570" x2="2797" y2="2570" stroke="#2b2a29" stroke-width="5" stroke-linecap="butt"/>
<line x1="2846" y1="1096" x2="2846" y2="2527" stroke="#2b2a29" stroke-width="5" stroke-linecap="butt"/>
<polygon points="2846.0,1056.0 2862.5,1114.0 2829.5,1114.0" fill="#2b2a29"/>
<polygon points="2846.0,2567.0 2829.5,2509.0 2862.5,2509.0" fill="#2b2a29"/>
<path transform="translate(2744.8,1888) rotate(-90)" d="M4.5,17 A17,17 0 1 0 38.5,17 A17,17 0 1 0 4.5,17 Z M0,55.5 A21.5,21.5 0 1 0 43,55.5 A21.5,21.5 0 1 0 0,55.5 Z" fill="none" stroke="#2b2a29" stroke-width="8.2" stroke-linecap="round" stroke-linejoin="round"/>
<path transform="translate(2744.8,1821) rotate(-90)" d="M34,0 H0 V34 H17 C27,34 34,42 34,52 V59 C34,69 27,77 17,77 H0" fill="none" stroke="#2b2a29" stroke-width="8.2" stroke-linecap="round" stroke-linejoin="round"/>
<path transform="translate(2744.8,1761.2) rotate(-90)" d="M34,0 H0 V34 H17 C27,34 34,42 34,52 V59 C34,69 27,77 17,77 H0" fill="none" stroke="#2b2a29" stroke-width="8.2" stroke-linecap="round" stroke-linejoin="round"/>
<line x1="2542.5" y1="1416" x2="2751.5" y2="1416" stroke="#2b2a29" stroke-width="5" stroke-linecap="butt"/>
<line x1="2542.5" y1="1966.6" x2="2751.5" y2="1966.6" stroke="#2b2a29" stroke-width="5" stroke-linecap="butt"/>
<line x1="2677.6" y1="1461" x2="2677.6" y2="1924" stroke="#2b2a29" stroke-width="5" stroke-linecap="butt"/>
<polygon points="2677.6,1421.0 2694.1,1479.0 2661.1,1479.0" fill="#2b2a29"/>
<polygon points="2677.6,1964.0 2661.1,1906.0 2694.1,1906.0" fill="#2b2a29"/>
<path transform="translate(2578,1760.6) rotate(-90)" d="M0,0 H34 L9,34 H17 C27,34 34,42 34,52 V59 C34,69 27,77 17,77 H0" fill="none" stroke="#2b2a29" stroke-width="8.2" stroke-linecap="round" stroke-linejoin="round"/>
<path transform="translate(2578,1699) rotate(-90)" d="M0,18 L17,0 V77" fill="none" stroke="#2b2a29" stroke-width="8.2" stroke-linecap="round" stroke-linejoin="round"/>
<path transform="translate(2578,1658) rotate(-90)" d="M0,17 A17,17 0 0 1 34,17 V60 A17,17 0 0 1 0,60 Z" fill="none" stroke="#2b2a29" stroke-width="8.2" stroke-linecap="round" stroke-linejoin="round"/>
<line x1="1334.7" y1="1487.6" x2="1925.7" y2="1487.6" stroke="#2b2a29" stroke-width="5" stroke-linecap="butt"/>
<line x1="1337" y1="1924" x2="1480" y2="1924" stroke="#2b2a29" stroke-width="5" stroke-linecap="butt"/>
<line x1="1364.5" y1="1530.5" x2="1364.5" y2="1885" stroke="#2b2a29" stroke-width="5" stroke-linecap="butt"/>
<polygon points="1364.5,1490.5 1381.0,1548.5 1348.0,1548.5" fill="#2b2a29"/>
<polygon points="1364.5,1925.0 1348.0,1867.0 1381.0,1867.0" fill="#2b2a29"/>
<path transform="translate(1258,1721) rotate(-90)" d="M0,9 C5,3 11,0 17,0 C27,0 34,8 34,18 C34,23 32,27 29,31 L0,77 H35" fill="none" stroke="#2b2a29" stroke-width="8.2" stroke-linecap="round" stroke-linejoin="round"/>
<path transform="translate(1258,1659.5) rotate(-90)" d="M19,0 L0,61 H45 M31,42 V78" fill="none" stroke="#2b2a29" stroke-width="8.2" stroke-linecap="round" stroke-linejoin="round"/>
<path transform="translate(1258,1590.6) rotate(-90)" d="M34,0 H0 V34 H17 C27,34 34,42 34,52 V59 C34,69 27,77 17,77 H0" fill="none" stroke="#2b2a29" stroke-width="8.2" stroke-linecap="round" stroke-linejoin="round"/>
<line x1="910" y1="1320" x2="2245" y2="1255.8" stroke="#2b2a29" stroke-width="5" stroke-linecap="butt"/>
<polygon points="883.0,1321.3 940.1,1302.0 941.7,1335.0" fill="#2b2a29"/>
<polygon points="2270.5,1254.5 2213.4,1273.8 2211.8,1240.8" fill="#2b2a29"/>
<path transform="translate(1328.8,1207)" d="M4.5,17 A17,17 0 1 0 38.5,17 A17,17 0 1 0 4.5,17 Z M0,55.5 A21.5,21.5 0 1 0 43,55.5 A21.5,21.5 0 1 0 0,55.5 Z" fill="none" stroke="#2b2a29" stroke-width="8.2" stroke-linecap="round" stroke-linejoin="round"/>
<path transform="translate(1397,1207)" d="M0,17 A17,17 0 0 1 34,17 V60 A17,17 0 0 1 0,60 Z" fill="none" stroke="#2b2a29" stroke-width="8.2" stroke-linecap="round" stroke-linejoin="round"/>
<path transform="translate(1457,1207)" d="M0,17 A17,17 0 0 1 34,17 V60 A17,17 0 0 1 0,60 Z" fill="none" stroke="#2b2a29" stroke-width="8.2" stroke-linecap="round" stroke-linejoin="round"/>
</svg>
</body></html>
